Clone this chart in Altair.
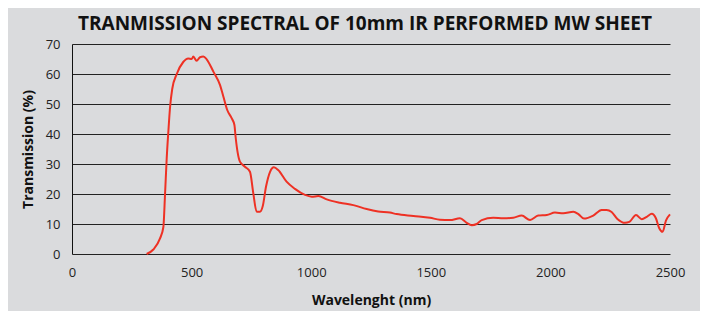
import altair as alt
import pandas as pd

wavelength = [312, 340, 368, 382, 389, 396, 403, 410, 419, 438, 465, 486, 500, 507, 521, 535, 549, 563,
              591, 619, 633, 649, 668, 679, 684, 693, 702, 723, 744, 758, 772, 786, 797, 811, 828, 844,
              862, 897, 932, 974, 1002, 1030, 1065, 1120, 1176, 1232, 1280, 1329, 1357, 1427, 1497, 1538,
              1580, 1622, 1650, 1671, 1692, 1713, 1761, 1803, 1845, 1880, 1915, 1949, 1985, 2019, 2054,
              2096, 2117, 2140, 2179, 2214, 2235, 2256, 2280, 2312, 2330, 2358, 2382, 2403, 2424, 2441,
              2455, 2469, 2483, 2500]
transmission = [0, 1.5, 5.2, 9, 20, 32, 41, 49, 55, 60, 64, 65.2, 65, 65.8, 64.4, 65.6, 65.8, 64.9,
                60.8, 56.3, 52.4, 48, 45.2, 43, 39, 33.6, 30.8, 29.1, 27.4, 20.2, 14.1, 14.1, 15.8, 22.4,
                27.4, 28.9, 28, 24.1, 21.7, 19.7, 19.1, 19.3, 18.2, 17.1, 16.3, 15, 14.2, 13.8, 13.3, 12.7,
                12.1, 11.4, 11.3, 11.9, 10.4, 9.6, 10, 11.3, 12.1, 11.9, 12.1, 12.8, 11.3, 12.8, 13, 13.8,
                13.6, 14.1, 13.3, 11.8, 12.8, 14.7, 14.7, 14, 11.7, 10.4, 10.7, 13, 11.6, 12.4, 13.4, 11.9,
                8.6, 7.4, 11.1, 13.2]

x_ticks = [0, 500, 1000, 1500, 2000, 2500]
y_ticks = [0, 10, 20, 30, 40, 50, 60, 70]

df = pd.DataFrame({"wavelength": wavelength, "transmission": transmission})

font = "Open Sans"

chart = alt.Chart(df).mark_line(color="#ee3124", strokeWidth=2, interpolate="monotone").encode(
    x=alt.X("wavelength:Q", scale=alt.Scale(domain=[0, 2500], nice=False),
            axis=alt.Axis(title="Wavelenght (nm)", values=x_ticks, grid=False, domain=False, ticks=False,
                          labelPadding=12, titlePadding=14, format="d", labelFlush=False)),
    y=alt.Y("transmission:Q", scale=alt.Scale(domain=[0, 70], nice=False),
            axis=alt.Axis(title="Transmission (%)", values=y_ticks, grid=True, domain=True, ticks=False,
                          labelPadding=12, titlePadding=10)),
).properties(
    width=598,
    height=210,
    title=alt.TitleParams("TRANMISSION SPECTRAL OF 10mm IR PERFORMED MW SHEET", fontSize=19,
                          font=font, fontWeight="bold", color="#111", offset=4, dx=-6, anchor="middle"),
    autosize=alt.AutoSizeParams(type="none"),
    padding={"left": 64, "top": 36, "right": 30, "bottom": 57},
    background="#dadbdd",
).configure_view(
    stroke=None,
).configure_axis(
    labelFont=font, labelFontSize=13, labelColor="#222",
    titleFont=font, titleFontSize=14, titleFontWeight="bold", titleColor="#111",
    gridColor="#222", gridWidth=1, gridOpacity=1,
    domainColor="#111", domainWidth=1,
)

chart.save("out.html", embed_options={"renderer": "svg", "actions": False})
